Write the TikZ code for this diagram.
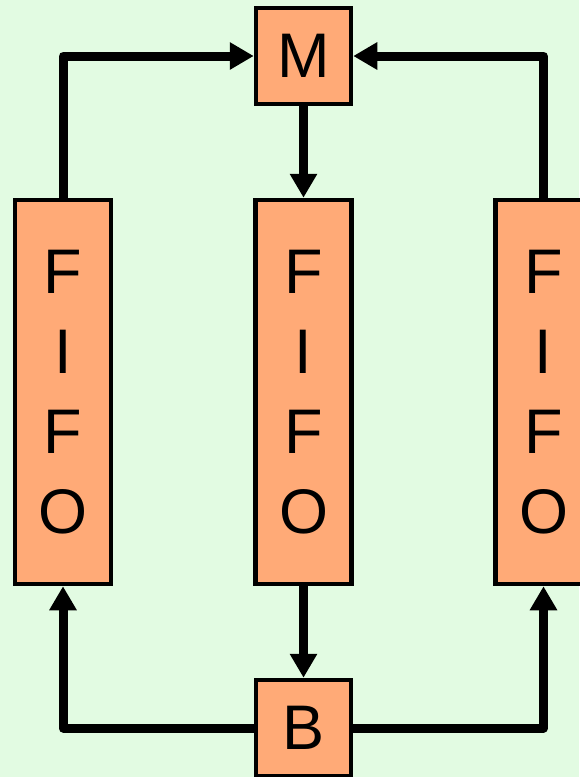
\documentclass[tikz,border=0pt]{standalone}
\usepackage{fontspec}
\setmainfont{Liberation Sans}
\usetikzlibrary{arrows.meta}
\definecolor{bgc}{RGB}{226,251,226}
\definecolor{boxc}{RGB}{255,170,119}
\tikzset{
  blk/.style={draw=black, line width=4.5pt, fill=boxc, inner sep=0pt, font=\fontsize{63}{80}\selectfont},
  sq/.style={blk, minimum width=95pt, minimum height=96pt},
  fifo/.style={blk, minimum width=96pt, minimum height=384pt, align=center},
  conn/.style={line width=9pt, line join=round, -{Triangle[length=24pt,width=26pt]}}
}
\begin{document}
\begin{tikzpicture}[x=1pt,y=-1pt]
\fill[bgc] (0,0) rectangle (579,777);
\useasboundingbox (0,0) rectangle (579,777);
\node[sq] (M) at (303.5,56) {M};
\node[sq] (B) at (303.5,728) {B};
\node[fifo] (L) at (63,392) {F\\I\\F\\O};
\node[fifo] (C) at (303.5,392) {F\\I\\F\\O};
\node[fifo] (R) at (543.5,392) {F\\I\\F\\O};
\draw[conn] (L.north) |- (M.west);
\draw[conn] (R.north) |- (M.east);
\draw[conn] (M.south) -- (C.north);
\draw[conn] (C.south) -- (B.north);
\draw[conn] (B.west) -| (L.south);
\draw[conn] (B.east) -| (R.south);
\end{tikzpicture}
\end{document}
